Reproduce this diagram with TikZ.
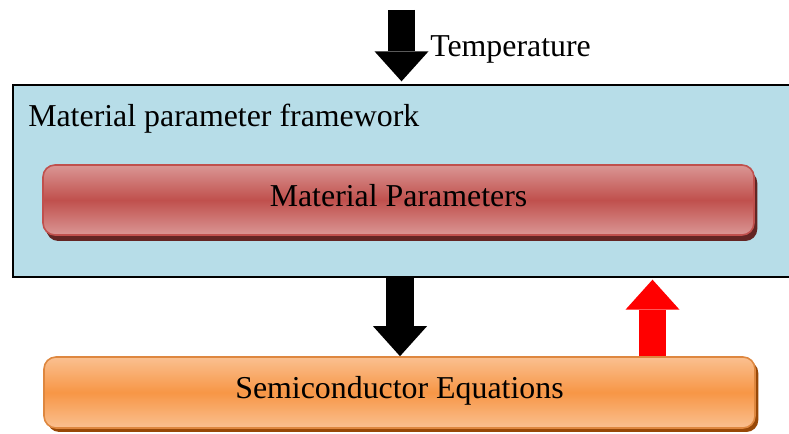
\documentclass[tikz,border=0pt]{standalone}
\usepackage{fontspec}
\setmainfont{Liberation Serif}
\usetikzlibrary{arrows.meta,shadows}
\definecolor{framefill}{HTML}{B7DDE8}
\definecolor{redlight}{HTML}{DA9694}
\definecolor{reddark}{HTML}{C0504D}
\definecolor{redshadow}{HTML}{632523}
\definecolor{orangelight}{HTML}{FAC090}
\definecolor{orangedark}{HTML}{F79646}
\definecolor{orangeshadow}{HTML}{984807}
\tikzset{
  bigtext/.style={font=\fontsize{23.9}{28}\selectfont},
  bar/.style={rectangle,rounded corners=9pt,line width=1.2pt,minimum width=533.25pt,bigtext},
  paramsbar/.style={bar,draw=reddark,minimum height=52.5pt,
    top color=redlight,bottom color=redlight,middle color=reddark,
    drop shadow={shadow xshift=2.5pt,shadow yshift=-4.5pt,fill=redshadow,opacity=1}},
  eqbar/.style={bar,draw=orangedark!90!black,minimum height=53.25pt,
    top color=orangelight,bottom color=orangelight,middle color=orangedark,
    drop shadow={shadow xshift=2.5pt,shadow yshift=-3pt,fill=orangeshadow,opacity=1}},
  blockarrow/.style={line width=#1,-{Triangle[width=40.5pt,length=22.5pt,line width=0pt]}},
}
\begin{document}
\begin{tikzpicture}[x=0.75pt,y=-0.75pt]
    \useasboundingbox (0,0) rectangle (789,434);
    \clip (0,0) rectangle (789,434);
    % framework box
    \node[draw=black,line width=1pt,fill=framefill,minimum width=590.25pt,minimum height=144pt] (frame) at (406.5,181) {};
    \node[bigtext,anchor=base west,inner sep=0pt] (frametitle) at (28,127) {Material parameter framework};
    \node[paramsbar] (params) at (398.5,200) {\raisebox{7.5pt}{Material Parameters}};
    \node[eqbar] (semi) at (399.5,392.5) {\raisebox{7pt}{Semiconductor Equations}};
    % input
    \coordinate (tempin) at (401.5,10);
    \node[bigtext,anchor=base west,inner sep=0pt] (temp) at (430,57) {Temperature};
    % arrows
    \coordinate (downx) at (400,0);
    \coordinate (upx) at (652.5,0);
    \draw[black,blockarrow=20.25pt,shorten >=2.25pt] (tempin) -- (tempin |- frame.north);
    \draw[black,blockarrow=21pt] (downx |- frame.south) -- (downx |- semi.north);
    \draw[red,blockarrow=20.25pt,shorten >=1.5pt] (upx |- semi.north) -- (upx |- frame.south);
\end{tikzpicture}
\end{document}
